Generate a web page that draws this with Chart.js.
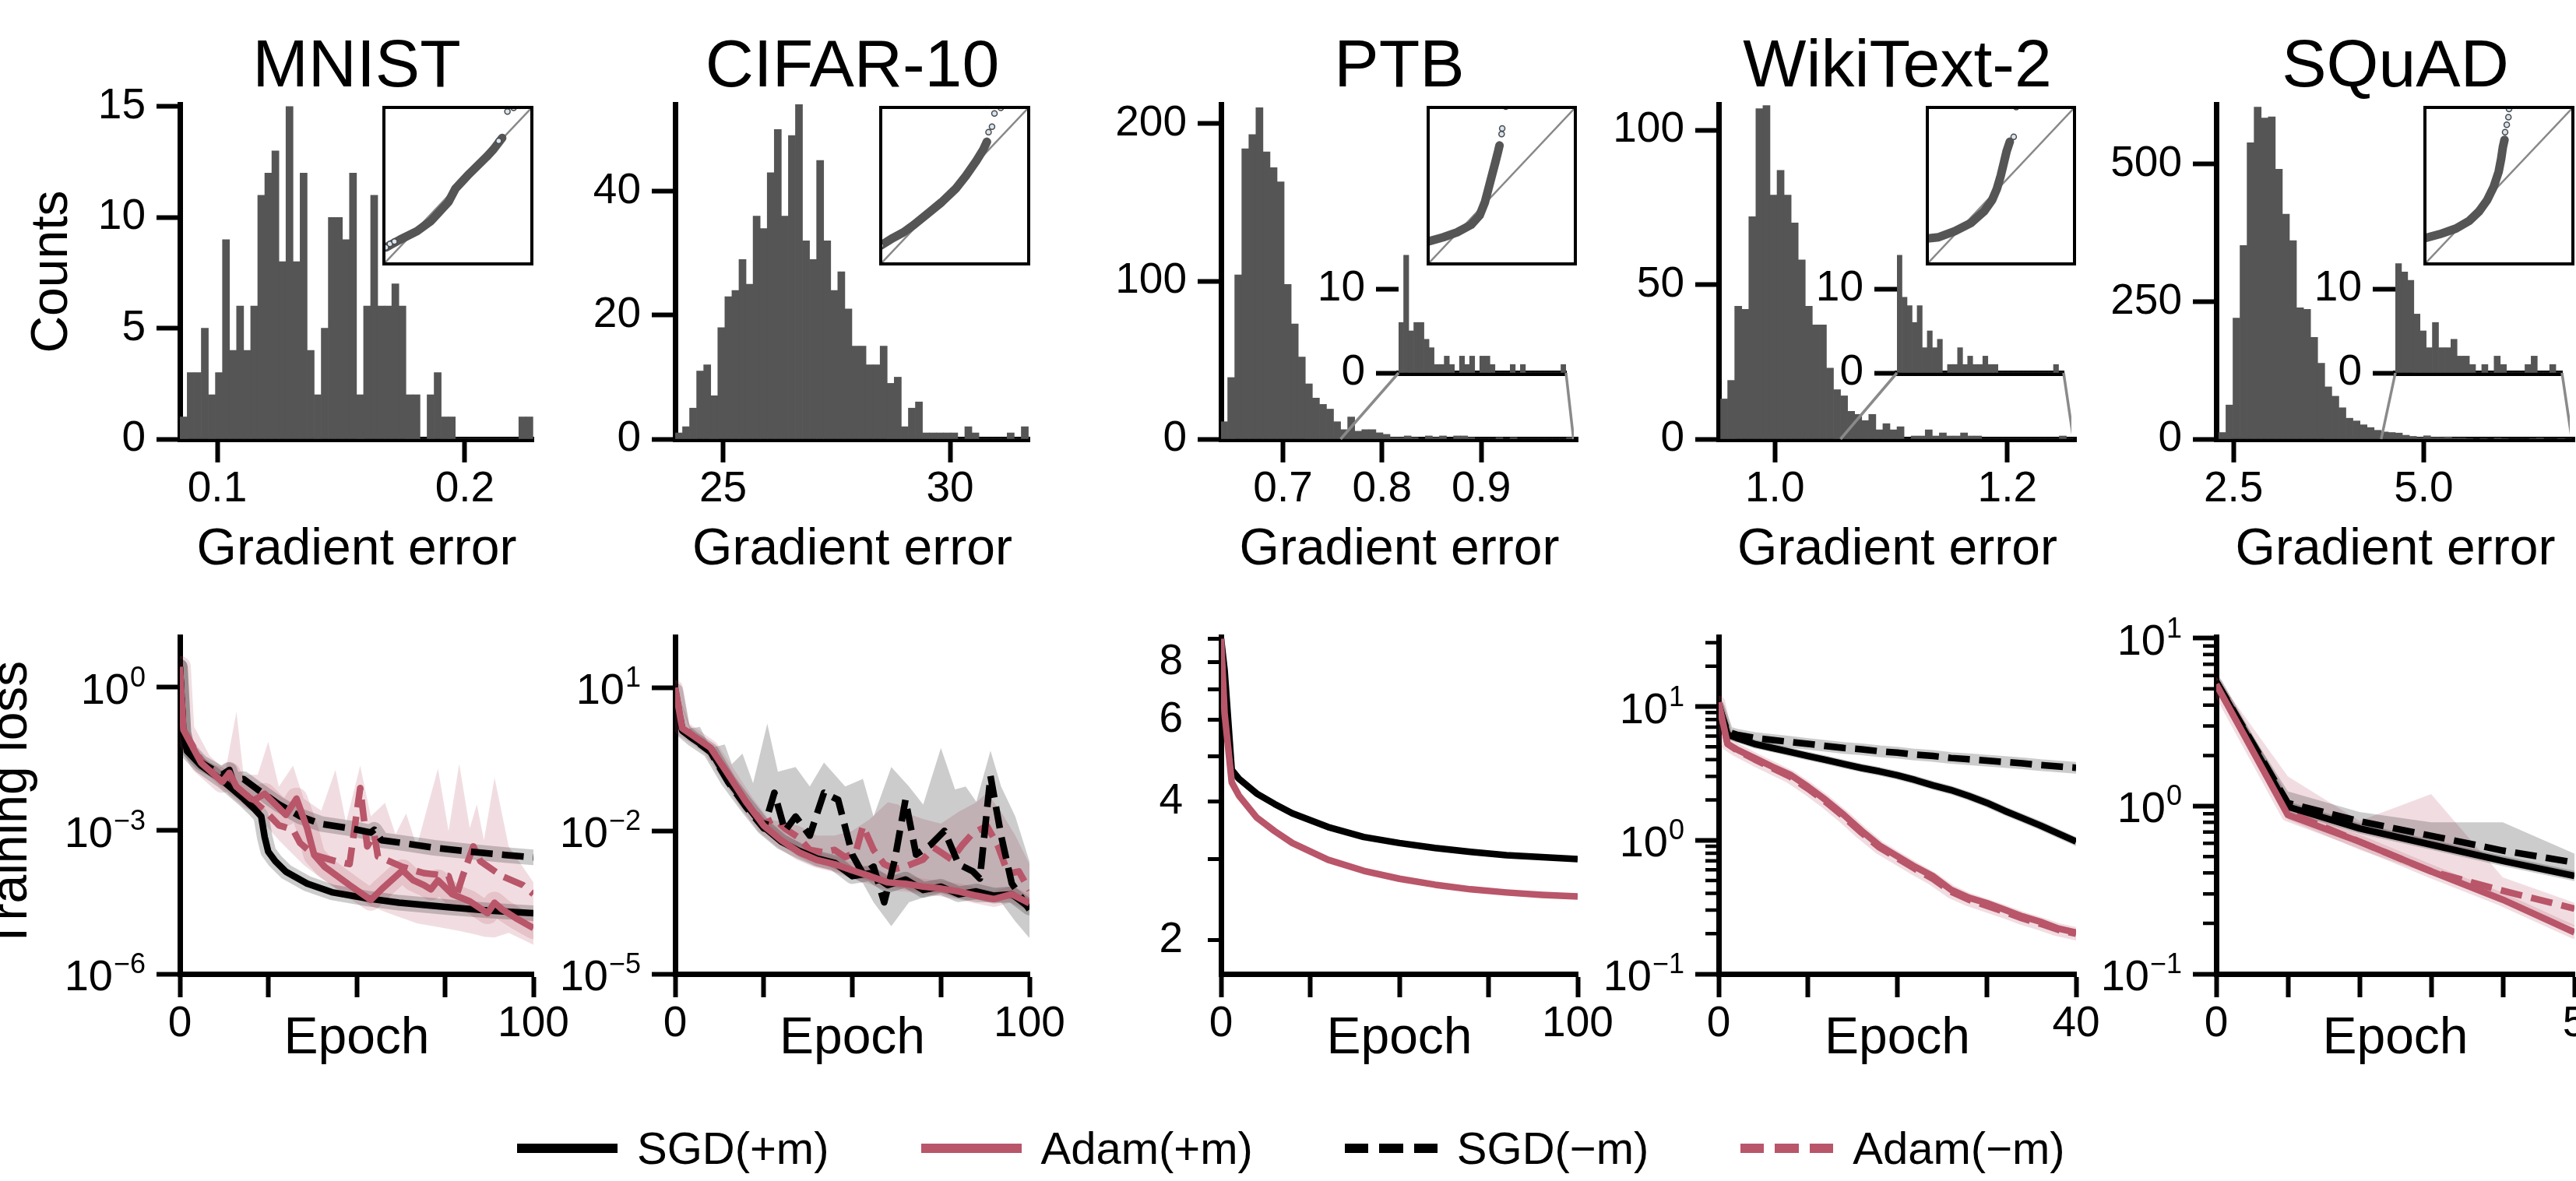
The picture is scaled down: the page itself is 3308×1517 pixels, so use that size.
<!DOCTYPE html>
<html>
<head>
<meta charset="utf-8">
<title>Gradient error histograms and training loss</title>
<script src="https://cdn.jsdelivr.net/npm/chart.js@4.4.1/dist/chart.umd.min.js"></script>
<style>
  html, body { margin: 0; background: #fff; }
  #page { position: relative; width: 3308px; height: 1517px; overflow: hidden; background: #fff;
          font-family: "Liberation Sans", Arial, Helvetica, sans-serif; }
  #page canvas { position: absolute; }
  #legend { position: absolute; left: 664px; top: 1446px; height: 58px; display: flex; align-items: center;
            gap: 118px; font-size: 58px; line-height: 1; color: #000; white-space: nowrap; }
  .item { display: flex; align-items: center; gap: 25px; }
  .swatch { width: 129px; height: 12px; }
</style>
</head>
<body>
<div id="page"><div id="legend"></div></div>
<script>
// ---------------- data ----------------

// gradient-error histograms, 50 equal bins each
const mnistBinStart = 0.0850, mnistBinWidth = 0.00285;
const mnistCounts = [1, 3, 3, 5, 2, 3, 9, 4, 6, 4, 6, 11, 12, 13, 8, 15, 8, 12, 4, 2,
  5, 10, 10, 9, 12, 2, 6, 11, 6, 6, 7, 6, 2, 2, 0, 2, 3, 1, 1, 0,
  0, 0, 0, 0, 0, 0, 0, 0, 1, 1];
const cifarBinStart = 23.95, cifarBinWidth = 0.1555;
const cifarCounts = [1, 2, 5, 11, 12, 7, 18, 23, 24, 29, 25, 36, 34, 43, 50, 36, 49, 54, 32, 29,
  45, 32, 24, 27, 21, 15, 15, 12, 12, 15, 9, 10, 2, 5, 6, 1, 1, 1, 1, 1,
  0, 2, 1, 0, 0, 0, 0, 1, 0, 2];
const ptbBinStart = 0.6371, ptbBinWidth = 0.00712;
const ptbCounts = [11, 39, 104, 184, 193, 210, 182, 172, 163, 98, 73, 52, 35, 26, 22, 19, 11, 6, 14, 5,
  6, 6, 4, 3, 1, 1, 2, 1, 0, 2, 1, 2, 0, 2, 2, 1, 0, 0, 0, 1,
  0, 1, 0, 0, 0, 0, 0, 0, 0, 1];
const wikiBinStart = 0.9533, wikiBinWidth = 0.00607;
const wikiCounts = [13, 19, 43, 42, 72, 107, 108, 79, 87, 79, 70, 58, 43, 37, 37, 23, 16, 14, 9, 8,
  6, 8, 3, 5, 3, 4, 0, 1, 1, 3, 1, 2, 1, 1, 2, 1, 1, 0, 0, 0,
  0, 0, 0, 0, 0, 0, 0, 0, 1, 0];
const squadBinStart = 2.307, squadBinWidth = 0.0928;
const squadCounts = [12, 62, 220, 352, 539, 604, 584, 586, 491, 409, 361, 239, 236, 185, 138, 95, 78, 57, 38, 33,
  26, 21, 16, 13, 12, 11, 7, 5, 3, 6, 3, 3, 4, 2, 2, 1, 0, 1, 0, 2,
  1, 0, 0, 0, 1, 2, 0, 0, 1, 0];
// first bin shown in the zoomed tail insets
const ptbTailFrom = 17, wikiTailFrom = 17, squadTailFrom = 23;

// histogram tick labels
const mnistHistXTicks = [0.1, 0.2], mnistHistYTicks = [0, 5, 10, 15];
const cifarHistXTicks = [25, 30], cifarHistYTicks = [0, 20, 40];
const ptbHistXTicks = [0.7, 0.8, 0.9], ptbHistYTicks = [0, 100, 200];
const wikiHistXTicks = [1.0, 1.2], wikiHistYTicks = [0, 50, 100];
const squadHistXTicks = [2.5, 5.0], squadHistYTicks = [0, 250, 500];
const tailYTicks = [0, 10];

// Q-Q plots (normalised quantiles): dense band, then the loose end points
const qqDiagonal = [[0, 0], [1, 1]];
const mnistQq = [[0.023, 0.113], [0.115, 0.161], [0.230, 0.215], [0.322, 0.279], [0.437, 0.397], [0.483, 0.480],
  [0.575, 0.574], [0.690, 0.681], [0.736, 0.728], [0.793, 0.799]];
const mnistQqEnds = [[0.023, 0.113], [0.05, 0.135], [0.08, 0.15], [0.77, 0.78], [0.828, 0.965], [0.869, 0.988]];
const cifarQq = [[0.011, 0.125], [0.092, 0.173], [0.161, 0.208], [0.230, 0.255], [0.322, 0.326], [0.414, 0.397],
  [0.506, 0.480], [0.575, 0.563], [0.644, 0.657], [0.690, 0.728], [0.713, 0.775]];
const cifarQqEnds = [[0.011, 0.125], [0.724, 0.835], [0.747, 0.870], [0.763, 0.953], [0.805, 0.988]];
const ptbQq = [[0.007, 0.149], [0.111, 0.177], [0.203, 0.208], [0.296, 0.255], [0.353, 0.314], [0.388, 0.397],
  [0.411, 0.480], [0.434, 0.563], [0.457, 0.645], [0.476, 0.716], [0.485, 0.752]];
const ptbQqEnds = [[0.499, 0.823], [0.503, 0.858], [0.527, 0.995]];
const wikiQq = [[0, 0.168], [0.086, 0.177], [0.194, 0.215], [0.301, 0.267], [0.387, 0.338], [0.441, 0.409],
  [0.473, 0.480], [0.499, 0.563], [0.520, 0.645], [0.538, 0.716], [0.559, 0.775]];
const wikiQqEnds = [[0.585, 0.806], [0.602, 0.993]];
const squadQq = [[0, 0.168], [0.108, 0.196], [0.216, 0.232], [0.303, 0.279], [0.368, 0.338], [0.422, 0.409],
  [0.465, 0.492], [0.498, 0.586], [0.515, 0.669], [0.526, 0.740], [0.537, 0.787]];
const squadQqEnds = [[0.541, 0.835], [0.552, 0.882], [0.563, 0.929], [0.567, 0.981]];

// training loss, stored as log10(loss) except PTB (plain loss)
const mnistSgdMomEpochs = [0, 1, 2, 6, 12, 18, 21, 23, 24, 25, 27, 30, 36, 43, 53, 62, 77, 87, 100];
const mnistSgdMomLog = [0.43, -0.95, -1.33, -1.64, -1.95, -2.33, -2.54, -2.7, -3.14, -3.44, -3.64, -3.86,
  -4.11, -4.29, -4.42, -4.51, -4.61, -4.67, -4.73];
const mnistSgdNoMomEpochs = [0, 1, 2, 6, 12, 14, 15, 18, 22, 28, 34, 40, 48, 54, 55, 57, 63, 72, 82, 92, 100];
const mnistSgdNoMomLog = [0.43, -0.95, -1.26, -1.58, -1.83, -1.73, -1.95, -1.92, -2.14, -2.45, -2.7, -2.86,
  -2.95, -3.04, -2.98, -3.2, -3.26, -3.36, -3.44, -3.51, -3.56];
const mnistAdamMomEpochs = [0, 1, 6, 12, 14, 16, 20, 21, 24, 27, 30, 33, 36, 38, 41, 48, 54, 57, 63, 66,
  69, 71, 73, 77, 82, 87, 89, 91, 95, 100];
const mnistAdamMomLog = [0.43, -0.89, -1.58, -1.98, -1.79, -2.08, -2.33, -2.36, -2.23, -2.45, -2.67, -2.33,
  -2.95, -3.51, -3.76, -4.14, -4.45, -4.23, -3.83, -4.04, -4.14, -4.23, -4.04, -4.33, -4.48, -4.73, -4.51,
  -4.64, -4.83, -5.04];
const mnistAdamNoMomEpochs = [0, 1, 6, 12, 18, 24, 28, 32, 34, 38, 44, 48, 51, 53, 55, 56, 63, 69, 76, 78,
  80, 83, 85, 91, 97, 100];
const mnistAdamNoMomLog = [0.43, -0.89, -1.53, -1.95, -2.2, -2.58, -2.89, -2.98, -3.26, -3.51, -3.64, -3.7,
  -2.11, -3.33, -3.08, -3.54, -3.76, -3.89, -3.95, -4.42, -3.95, -3.33, -3.64, -3.95, -4.14, -4.33];
const mnistAdamNoMomBandEpochs = [0, 2, 8, 13, 16, 18, 22, 25, 28, 32, 35, 40, 44, 47, 51, 54, 58, 61, 64, 67,
  73, 76, 79, 82, 84, 86, 89, 93, 100];
const mnistAdamNoMomBandHi = [0.49, -1.14, -1.58, -1.7, -0.51, -1.83, -1.83, -1.14, -2.08, -1.64, -2.33, -2.58,
  -1.73, -2.83, -1.64, -2.7, -2.42, -3.08, -2.64, -3.33, -1.7, -3.01, -1.6, -2.95, -2.45, -3.2, -1.89, -3.33, -4.08];
const mnistAdamNoMomBandLo = [0.36, -1.2, -1.85, -2.18, -2.33, -2.45, -2.72, -2.95, -3.2, -3.5, -3.72, -4.0,
  -4.2, -4.3, -4.45, -4.58, -4.7, -4.78, -4.86, -4.94, -5.02, -5.06, -5.1, -5.15, -5.18, -5.22, -5.24, -5.14, -5.39];

const cifarEpochs = [0, 2, 5, 10, 15, 20, 25, 30, 35, 40, 45, 50, 55, 60, 65, 70, 75, 80, 85, 90, 95, 100];
const cifarSgdMomLog = [0.94, 0.12, -0.07, -0.32, -0.95, -1.45, -1.92, -2.23, -2.42, -2.58, -2.67, -2.95,
  -2.89, -3.14, -3.02, -3.24, -3.17, -3.33, -3.27, -3.36, -3.33, -3.61];
const cifarAdamMomLog = [1.0, 0.15, 0.0, -0.26, -0.82, -1.39, -1.89, -2.2, -2.45, -2.61, -2.7, -2.83,
  -2.95, -3.08, -3.11, -3.17, -3.21, -3.27, -3.36, -3.43, -3.33, -3.52];
const cifarSgdNoMomEpochs = [0, 2, 5, 10, 15, 20, 25, 28, 31, 34, 38, 42, 46, 50, 53, 56, 59, 62, 65, 68,
  72, 76, 80, 84, 86, 89, 92, 95, 100];
const cifarSgdNoMomLog = [0.94, 0.1, -0.07, -0.35, -0.98, -1.5, -1.95, -1.2, -2.0, -1.7, -2.1, -1.2, -1.35,
  -2.5, -2.9, -2.75, -3.5, -2.6, -1.35, -2.5, -2.3, -2.0, -2.7, -2.85, -3.0, -0.85, -2.1, -3.1, -3.65];
const cifarAdamNoMomEpochs = [0, 2, 5, 10, 15, 20, 25, 28, 31, 35, 38, 42, 45, 48, 51, 53, 56, 59, 62, 65,
  70, 73, 75, 78, 81, 84, 88, 91, 94, 97, 100];
const cifarAdamNoMomLog = [1.0, 0.15, 0.0, -0.26, -0.82, -1.39, -1.85, -1.75, -1.95, -2.15, -2.4, -2.45,
  -2.4, -2.55, -2.45, -1.9, -2.4, -2.7, -2.8, -2.75, -2.6, -2.35, -2.45, -2.6, -2.3, -2.05, -1.9, -2.3,
  -2.9, -2.85, -3.25];
const cifarSgdNoMomBandEpochs = [0, 2, 7, 10, 14, 16, 19, 22, 26, 29, 34, 38, 42, 48, 53, 56, 61, 66, 70, 75,
  79, 82, 85, 89, 92, 96, 100];
const cifarSgdNoMomBandHi = [1.0, 0.12, 0.18, -0.26, -0.19, -0.6, -0.38, -1.0, 0.25, -0.76, -0.66, -1.07,
  -0.57, -1.07, -0.91, -1.7, -0.66, -1.07, -1.45, -0.26, -1.13, -1.07, -1.39, -0.32, -1.07, -1.7, -2.64];
const cifarSgdNoMomBandLo = [0.9, 0.05, -0.2, -0.4, -0.9, -1.1, -1.4, -1.65, -2.0, -2.2, -2.45, -2.6, -2.7,
  -2.9, -3.1, -3.5, -4.0, -3.5, -3.4, -3.3, -3.4, -3.45, -3.5, -3.5, -3.5, -3.9, -4.25];
const cifarAdamNoMomBandEpochs = [0, 5, 10, 15, 20, 25, 30, 35, 40, 45, 50, 55, 60, 63, 66, 70, 75, 80, 85,
  88, 92, 96, 100];
const cifarAdamNoMomBandHi = [1.02, 0.05, -0.2, -0.75, -1.3, -1.75, -1.8, -1.9, -2.1, -2.1, -2.0, -1.75, -1.4,
  -1.45, -1.65, -1.75, -1.85, -1.6, -1.4, -1.2, -1.6, -2.1, -2.7];
const cifarAdamNoMomBandLo = [0.98, -0.05, -0.35, -0.9, -1.45, -1.95, -2.3, -2.55, -2.75, -2.85, -2.95, -3.05,
  -3.15, -3.2, -3.25, -3.3, -3.3, -3.35, -3.4, -3.4, -3.4, -3.45, -3.55];

const ptbEpochs = [0, 1, 3, 5, 10, 15, 20, 30, 40, 50, 60, 70, 80, 90, 100];
const ptbSgdMom = [9.0, 7.7, 4.68, 4.48, 4.16, 3.95, 3.77, 3.52, 3.35, 3.25, 3.17, 3.11, 3.06, 3.03, 3.0];
const ptbAdamMom = [9.0, 6.2, 4.4, 4.12, 3.69, 3.45, 3.25, 2.99, 2.83, 2.72, 2.64, 2.58, 2.54, 2.51, 2.49];

const wikiEpochs = [0, 1, 2, 4, 6, 8, 10, 12, 14, 16, 18, 20, 22, 24, 26, 28, 30, 32, 34, 36, 38, 40];
const wikiSgdMomLog = [1.02, 0.79, 0.765, 0.72, 0.69, 0.66, 0.63, 0.60, 0.57, 0.54, 0.515, 0.485, 0.45, 0.41,
  0.375, 0.33, 0.28, 0.22, 0.165, 0.11, 0.05, -0.01];
const wikiSgdNoMomLog = [1.0, 0.81, 0.79, 0.765, 0.75, 0.735, 0.72, 0.705, 0.69, 0.68, 0.665, 0.655, 0.64, 0.63,
  0.615, 0.605, 0.595, 0.585, 0.575, 0.562, 0.552, 0.542];
const wikiAdamMomLog = [1.03, 0.72, 0.68, 0.615, 0.55, 0.49, 0.40, 0.30, 0.19, 0.07, -0.04, -0.12, -0.2, -0.27,
  -0.37, -0.43, -0.47, -0.52, -0.57, -0.61, -0.66, -0.69];
const wikiAdamNoMomLog = [1.03, 0.72, 0.675, 0.605, 0.54, 0.475, 0.385, 0.285, 0.175, 0.055, -0.055, -0.135,
  -0.215, -0.29, -0.385, -0.445, -0.49, -0.535, -0.585, -0.625, -0.67, -0.7];

const squadEpochs = [0, 1, 2, 3, 4, 5];
const squadSgdMomLog = [0.743, -0.004, -0.133, -0.23, -0.327, -0.416];
const squadSgdNoMomLog = [0.743, 0.018, -0.09, -0.177, -0.265, -0.336];
const squadAdamMomLog = [0.726, -0.053, -0.212, -0.389, -0.558, -0.752];
const squadAdamNoMomLog = [0.726, -0.035, -0.212, -0.389, -0.504, -0.611];
const squadSgdNoMomBandHi = [0.76, 0.088, -0.035, -0.097, -0.097, -0.283];
const squadSgdNoMomBandLo = [0.73, -0.01, -0.13, -0.22, -0.31, -0.40];
const squadAdamNoMomBandHi = [0.77, 0.177, -0.088, 0.071, -0.425, -0.575];
const squadAdamNoMomBandLo = [0.70, -0.08, -0.26, -0.41, -0.57, -0.72];

// loss-axis ticks
const epochTicks100 = [0, 25, 50, 75, 100];
const wikiEpochTicks = [0, 10, 20, 30, 40];
const squadEpochTicks = [0, 1, 2, 3, 4, 5];
const mnistLossExps = [-6, -3, 0];
const cifarLossExps = [-5, -2, 1];
const wikiLossExps = [-1, 0, 1];
const squadLossExps = [-1, 0, 1];
const ptbLossTicks = [2, 3, 4, 5, 6, 7, 8, 9];
const ptbLossLabels = [2, 4, 6, 8];
const wikiMinorTicks = [0.2, 0.3, 0.4, 0.5, 0.6, 0.7, 0.8, 0.9, 2, 3, 4, 5, 6, 7, 8, 9, 20, 30];
const squadMinorTicks = [0.2, 0.3, 0.4, 0.5, 0.6, 0.7, 0.8, 0.9, 2, 3, 4, 5, 6, 7, 8, 9];

const legendLabels = ['SGD(+m)', 'Adam(+m)', 'SGD(\u2212m)', 'Adam(\u2212m)'];

// ---------------- styling ----------------
const FONT = '"Liberation Sans", Arial, Helvetica, sans-serif';
const RED = '#b9566a';
const BAR = '#555555';
const GRAY_BAND = 'rgba(0,0,0,0.2)';
const RED_BAND = 'rgba(185,86,106,0.2)';
const LINE_W = 8.5;
Chart.defaults.font.family = FONT;
Chart.defaults.color = '#000';

const page = document.getElementById('page');
const legendEl = document.getElementById('legend');
const charts = {};

function mount(area, pad) {
  const c = document.createElement('canvas');
  const w = Math.round(area.r - area.l + pad.l + pad.r);
  const h = Math.round(area.b - area.t + pad.t + pad.b);
  c.width = w; c.height = h;
  c.style.left = (area.l - pad.l) + 'px';
  c.style.top = (area.t - pad.t) + 'px';
  c.style.width = w + 'px'; c.style.height = h + 'px';
  page.insertBefore(c, legendEl);
  return c;
}

function base(pad) {
  return {
    responsive: false, animation: false, devicePixelRatio: 1, events: [],
    layout: {padding: {left: 0, top: pad.t, right: pad.r, bottom: 0}, autoPadding: false},
    plugins: {legend: {display: false}, tooltip: {enabled: false}}
  };
}

function axis(o) {
  const tickLen = o.tickLen === undefined ? 30 : o.tickLen;
  return {
    type: o.type || 'linear', min: o.min, max: o.max, offset: false, z: 1,
    afterBuildTicks: s => { s.ticks = o.ticks.map(v => ({value: v})); },
    afterFit: s => {
      if (s.isHorizontal()) s.height = o.size; else s.width = o.size;
      s.paddingLeft = s.paddingRight = s.paddingTop = s.paddingBottom = 0;
    },
    border: {display: o.border !== false, width: 7, color: '#000'},
    grid: {display: tickLen > 0, drawOnChartArea: false, drawTicks: tickLen > 0, tickLength: tickLen,
           tickWidth: o.tickWidth || 6, tickColor: '#000', offset: false},
    ticks: {display: o.labels !== false, font: {size: 55}, color: '#000', padding: o.pad === undefined ? 12 : o.pad,
            maxRotation: 0, autoSkip: false, callback: o.fmt || (v => String(v))},
    title: o.title ? {display: true, text: o.title, color: '#000', font: {size: 66}, padding: o.titlePad}
                   : {display: false}
  };
}

// ---------------- plugins ----------------
const panelTitle = {
  id: 'panelTitle',
  afterDraw(chart, args, opts) {
    if (!opts.text) return;
    const a = chart.chartArea, ctx = chart.ctx;
    ctx.save();
    ctx.font = '86px ' + FONT;
    ctx.fillStyle = '#000';
    ctx.textAlign = 'center';
    ctx.textBaseline = 'alphabetic';
    ctx.fillText(opts.text, (a.left + a.right) / 2, a.top - 23);
    ctx.restore();
  }
};

// grey lines joining the zoomed tail inset to the range it shows on the main axis
const connector = {
  id: 'connector',
  afterDraw(chart, args, opts) {
    const main = charts[opts.main];
    if (!main) return;
    const ctx = chart.ctx, a = chart.chartArea, xs = main.scales.x;
    const dx = parseFloat(main.canvas.style.left) - parseFloat(chart.canvas.style.left);
    const dy = parseFloat(main.canvas.style.top) - parseFloat(chart.canvas.style.top);
    const y0 = main.chartArea.bottom + dy;
    ctx.save();
    ctx.strokeStyle = '#8a8a8a';
    ctx.lineWidth = 3.5;
    ctx.beginPath();
    ctx.moveTo(xs.getPixelForValue(chart.scales.x.min) + dx, y0);
    ctx.lineTo(a.left, a.bottom);
    ctx.moveTo(xs.getPixelForValue(chart.scales.x.max) + dx, y0);
    ctx.lineTo(a.right, a.bottom);
    ctx.stroke();
    ctx.restore();
  }
};

const frame = {
  id: 'frame',
  afterDraw(chart) {
    const a = chart.chartArea, ctx = chart.ctx;
    ctx.save();
    ctx.lineWidth = 4;
    ctx.strokeStyle = '#000';
    ctx.strokeRect(a.left + 2, a.top + 2, a.width - 4, a.height - 4);
    ctx.restore();
  }
};

// "10" with a raised exponent for log axes
const powLabels = {
  id: 'powLabels',
  afterDraw(chart, args, opts) {
    if (!opts.exps || !opts.exps.length) return;
    const s = chart.scales.y, ctx = chart.ctx;
    ctx.save();
    ctx.fillStyle = '#000';
    ctx.textAlign = 'right';
    ctx.textBaseline = 'alphabetic';
    for (const e of opts.exps) {
      const y = s.getPixelForValue(Math.pow(10, e));
      const xr = s.right - 30 - 14;
      const sup = e < 0 ? '\u2212' + (-e) : String(e);
      ctx.font = '36px ' + FONT;
      ctx.fillText(sup, xr, y - 1);
      const w = ctx.measureText(sup).width;
      ctx.font = '56px ' + FONT;
      ctx.fillText('10', xr - w - 1, y + 21);
    }
    ctx.restore();
  }
};

const minorTicks = {
  id: 'minorTicks',
  afterDraw(chart, args, opts) {
    if (!opts.values || !opts.values.length) return;
    const s = chart.scales.y, ctx = chart.ctx;
    ctx.save();
    ctx.strokeStyle = '#000';
    ctx.lineWidth = 4.5;
    ctx.beginPath();
    for (const v of opts.values) {
      if (v < s.min || v > s.max) continue;
      const y = s.getPixelForValue(v);
      ctx.moveTo(s.right - 17, y);
      ctx.lineTo(s.right, y);
    }
    ctx.stroke();
    ctx.restore();
  }
};

// ---------------- chart builders ----------------
function histogram(o) {
  const pad = o.pad, from = o.from || 0;
  const cv = mount(o.area, pad);
  const bars = o.counts.slice(from).map((c, i) => ({x: o.binStart + (from + i + 0.5) * o.binWidth, y: c}));
  const opts = base(pad);
  opts.scales = {
    x: axis({min: o.inset ? o.binStart + from * o.binWidth : o.xmin,
             max: o.inset ? o.binStart + o.counts.length * o.binWidth : o.xmax,
             ticks: o.xTicks || [], size: pad.b, tickLen: o.inset ? 0 : 30, labels: !o.inset, pad: 2,
             fmt: v => v.toFixed(o.digits || 0),
             title: o.inset ? null : 'Gradient error', titlePad: {top: 0, bottom: 18}}),
    y: axis({min: 0, max: o.ymax, ticks: o.yTicks, size: pad.l, tickLen: o.inset ? 29 : 30,
             border: !o.inset, pad: 14, title: o.ytitle, titlePad: {top: 28, bottom: 0}})
  };
  opts.plugins.panelTitle = {text: o.title || ''};
  opts.plugins.connector = {main: o.main || ''};
  return new Chart(cv, {
    type: 'bar',
    data: {datasets: [{data: bars, backgroundColor: BAR, borderWidth: 0, barPercentage: 1,
                       categoryPercentage: 1, grouped: false}]},
    options: opts,
    plugins: [panelTitle, connector]
  });
}

function qqPlot(area, curve, ends) {
  const cv = mount(area, {l: 0, r: 0, t: 0, b: 0});
  const opts = base({t: 0, r: 0});
  opts.scales = {x: {type: 'linear', min: 0, max: 1, display: false},
                 y: {type: 'linear', min: 0, max: 1, display: false}};
  const xy = arr => arr.map(([x, y]) => ({x, y}));
  return new Chart(cv, {
    type: 'scatter',
    data: {datasets: [
      {type: 'scatter', data: xy(ends), pointRadius: 3.5, pointBorderWidth: 1.5, pointBorderColor: '#4a4a4a',
       pointBackgroundColor: '#d9e6f2', order: 0},
      {type: 'line', data: xy(curve), borderColor: '#555', borderWidth: 11, pointRadius: 0,
       borderCapStyle: 'round', borderJoinStyle: 'round', order: 1},
      {type: 'line', data: xy(qqDiagonal), borderColor: '#888', borderWidth: 2.5, pointRadius: 0, order: 2}
    ]},
    options: opts,
    plugins: [frame]
  });
}

const pts = (xs, logs) => xs.map((x, i) => ({x, y: Math.pow(10, logs[i])}));
const ptsLin = (xs, ys) => xs.map((x, i) => ({x, y: ys[i]}));
function line(data, color, dashed, order) {
  return {data, order, borderColor: color, borderWidth: LINE_W, borderDash: dashed ? [28, 12] : [],
          pointRadius: 0, fill: false, tension: 0, borderJoinStyle: 'round'};
}
function spread(data, color, order, width) {
  return {data, order, borderColor: color, borderWidth: width || 20, pointRadius: 0, fill: false,
          tension: 0, borderJoinStyle: 'round', borderCapStyle: 'round'};
}
function band(xs, hi, lo, color, order) {
  return [
    {data: pts(xs, hi), order, borderWidth: 0, pointRadius: 0, fill: '+1', backgroundColor: color, tension: 0},
    {data: pts(xs, lo), order, borderWidth: 0, pointRadius: 0, fill: false, tension: 0}
  ];
}
const endsOnly = (v, i, t) => (i === 0 || i === t.length - 1) ? String(v) : '';

function lossChart(o) {
  const pad = o.pad;
  const cv = mount(o.area, pad);
  const opts = base(pad);
  opts.scales = {
    x: axis({min: 0, max: o.xmax, ticks: o.xTicks, size: pad.b, pad: 2, fmt: endsOnly,
             title: 'Epoch', titlePad: {top: 0, bottom: 7}}),
    y: axis({type: 'logarithmic', min: o.ymin, max: o.ymax, ticks: o.yTicks, size: pad.l,
             tickLen: o.yTickLen || 30, tickWidth: o.yTickWidth || 6, pad: o.yPad || 12,
             fmt: o.yFmt || (() => ''), title: o.ytitle, titlePad: {top: -23.6, bottom: 0}})
  };
  opts.plugins.powLabels = {exps: o.exps || []};
  opts.plugins.minorTicks = {values: o.minor || []};
  return new Chart(cv, {type: 'line', data: {datasets: o.datasets}, options: opts,
                        plugins: [powLabels, minorTicks]});
}

// ---------------- layout (page pixels) ----------------
const cols = [{l: 231, r: 685}, {l: 867, r: 1322}, {l: 1568, r: 2026}, {l: 2207, r: 2666}, {l: 2846, r: 3306}];
const histRow = {t: 134, b: 564};
const lossRow = {t: 818, b: 1251};
const tailRow = {t: 317, b: 479};
const qqRow = {t: 136, b: 341};
const area = (c, row) => ({l: c.l, r: c.r, t: row.t, b: row.b});
const histPad = {l: 150, r: 20, t: 134, b: 200};
const tailPad = {l: 110, r: 10, t: 10, b: 90};
const lossPad = {l: 170, r: 60, t: 60, b: 130};

// ---------------- top row: histograms ----------------
charts.mnist = histogram({area: area(cols[0], histRow), pad: Object.assign({}, histPad, {l: 231}),
  counts: mnistCounts, binStart: mnistBinStart, binWidth: mnistBinWidth, xmin: 0.0849, xmax: 0.2277, ymax: 15.1,
  xTicks: mnistHistXTicks, yTicks: mnistHistYTicks, digits: 1, title: 'MNIST', ytitle: 'Counts'});
charts.cifar = histogram({area: area(cols[1], histRow), pad: histPad,
  counts: cifarCounts, binStart: cifarBinStart, binWidth: cifarBinWidth, xmin: 23.943, xmax: 31.75, ymax: 54.05,
  xTicks: cifarHistXTicks, yTicks: cifarHistYTicks, digits: 0, title: 'CIFAR-10'});
charts.ptb = histogram({area: area(cols[2], histRow), pad: histPad,
  counts: ptbCounts, binStart: ptbBinStart, binWidth: ptbBinWidth, xmin: 0.6375, xmax: 0.9973, ymax: 212.1,
  xTicks: ptbHistXTicks, yTicks: ptbHistYTicks, digits: 1, title: 'PTB'});
charts.wiki = histogram({area: area(cols[3], histRow), pad: histPad,
  counts: wikiCounts, binStart: wikiBinStart, binWidth: wikiBinWidth, xmin: 0.9516, xmax: 1.2591, ymax: 108.4,
  xTicks: wikiHistXTicks, yTicks: wikiHistYTicks, digits: 1, title: 'WikiText-2'});
charts.squad = histogram({area: area(cols[4], histRow), pad: histPad,
  counts: squadCounts, binStart: squadBinStart, binWidth: squadBinWidth, xmin: 2.2727, xmax: 6.982, ymax: 608.9,
  xTicks: squadHistXTicks, yTicks: squadHistYTicks, digits: 1, title: 'SQuAD'});

// zoomed tails
histogram({area: {l: 1796, r: 2011, t: tailRow.t, b: tailRow.b}, pad: tailPad, inset: true, main: 'ptb',
  counts: ptbCounts, from: ptbTailFrom, binStart: ptbBinStart, binWidth: ptbBinWidth, ymax: 15, yTicks: tailYTicks});
histogram({area: {l: 2436, r: 2650, t: tailRow.t, b: tailRow.b}, pad: tailPad, inset: true, main: 'wiki',
  counts: wikiCounts, from: wikiTailFrom, binStart: wikiBinStart, binWidth: wikiBinWidth, ymax: 15, yTicks: tailYTicks});
histogram({area: {l: 3076, r: 3290, t: tailRow.t, b: tailRow.b}, pad: tailPad, inset: true, main: 'squad',
  counts: squadCounts, from: squadTailFrom, binStart: squadBinStart, binWidth: squadBinWidth, ymax: 15, yTicks: tailYTicks});

// Q-Q insets
qqPlot({l: 491, r: 685, t: qqRow.t, b: qqRow.b}, mnistQq, mnistQqEnds);
qqPlot({l: 1129, r: 1323, t: qqRow.t, b: qqRow.b}, cifarQq, cifarQqEnds);
qqPlot({l: 1832, r: 2025, t: qqRow.t, b: qqRow.b}, ptbQq, ptbQqEnds);
qqPlot({l: 2473, r: 2666, t: qqRow.t, b: qqRow.b}, wikiQq, wikiQqEnds);
qqPlot({l: 3112, r: 3306, t: qqRow.t, b: qqRow.b}, squadQq, squadQqEnds);

// ---------------- bottom row: training loss ----------------
lossChart({area: area(cols[0], lossRow), pad: Object.assign({}, lossPad, {l: 231}), xmax: 100,
  xTicks: epochTicks100, ymin: 1e-6, ymax: 11.4, yTicks: mnistLossExps.map(e => Math.pow(10, e)),
  exps: mnistLossExps, ytitle: 'Training loss',
  datasets: [
    line(pts(mnistAdamMomEpochs, mnistAdamMomLog), RED, false, 0),
    line(pts(mnistSgdMomEpochs, mnistSgdMomLog), '#000', false, 1),
    line(pts(mnistSgdNoMomEpochs, mnistSgdNoMomLog), '#000', true, 2),
    line(pts(mnistAdamNoMomEpochs, mnistAdamNoMomLog), RED, true, 3),
    spread(pts(mnistSgdMomEpochs, mnistSgdMomLog), GRAY_BAND, 10),
    spread(pts(mnistSgdNoMomEpochs, mnistSgdNoMomLog), GRAY_BAND, 11),
    spread(pts(mnistAdamMomEpochs, mnistAdamMomLog), RED_BAND, 12, 28),
    ...band(mnistAdamNoMomBandEpochs, mnistAdamNoMomBandHi, mnistAdamNoMomBandLo, RED_BAND, 20)
  ]});

lossChart({area: area(cols[1], lossRow), pad: lossPad, xmax: 100,
  xTicks: epochTicks100, ymin: 1e-5, ymax: 117, yTicks: cifarLossExps.map(e => Math.pow(10, e)),
  exps: cifarLossExps,
  datasets: [
    line(pts(cifarEpochs, cifarAdamMomLog), RED, false, 0),
    line(pts(cifarEpochs, cifarSgdMomLog), '#000', false, 1),
    line(pts(cifarSgdNoMomEpochs, cifarSgdNoMomLog), '#000', true, 2),
    line(pts(cifarAdamNoMomEpochs, cifarAdamNoMomLog), RED, true, 3),
    spread(pts(cifarEpochs, cifarSgdMomLog), GRAY_BAND, 10),
    spread(pts(cifarEpochs, cifarAdamMomLog), RED_BAND, 11),
    ...band(cifarSgdNoMomBandEpochs, cifarSgdNoMomBandHi, cifarSgdNoMomBandLo, GRAY_BAND, 20),
    ...band(cifarAdamNoMomBandEpochs, cifarAdamNoMomBandHi, cifarAdamNoMomBandLo, RED_BAND, 21)
  ]});

lossChart({area: area(cols[2], lossRow), pad: lossPad, xmax: 100,
  xTicks: epochTicks100, ymin: 1.692, ymax: 9.09, yTicks: ptbLossTicks,
  yTickLen: 17, yTickWidth: 5, yPad: 32, yFmt: v => ptbLossLabels.includes(v) ? String(v) : '',
  datasets: [
    line(ptsLin(ptbEpochs, ptbAdamMom), RED, false, 0),
    line(ptsLin(ptbEpochs, ptbSgdMom), '#000', false, 1)
  ]});

lossChart({area: area(cols[3], lossRow), pad: lossPad, xmax: 40,
  xTicks: wikiEpochTicks, ymin: 0.1, ymax: 33.2, yTicks: wikiLossExps.map(e => Math.pow(10, e)),
  exps: wikiLossExps, minor: wikiMinorTicks,
  datasets: [
    line(pts(wikiEpochs, wikiAdamMomLog), RED, false, 0),
    line(pts(wikiEpochs, wikiSgdMomLog), '#000', false, 1),
    line(pts(wikiEpochs, wikiSgdNoMomLog), '#000', true, 2),
    line(pts(wikiEpochs, wikiAdamNoMomLog), RED, true, 3),
    spread(pts(wikiEpochs, wikiSgdNoMomLog), GRAY_BAND, 10, 15),
    spread(pts(wikiEpochs, wikiSgdMomLog), GRAY_BAND, 11, 11),
    spread(pts(wikiEpochs, wikiAdamNoMomLog), RED_BAND, 12, 17)
  ]});

lossChart({area: area(cols[4], lossRow), pad: lossPad, xmax: 5,
  xTicks: squadEpochTicks, ymin: 0.1, ymax: 10.2, yTicks: squadLossExps.map(e => Math.pow(10, e)),
  exps: squadLossExps, minor: squadMinorTicks,
  datasets: [
    line(pts(squadEpochs, squadAdamMomLog), RED, false, 0),
    line(pts(squadEpochs, squadSgdMomLog), '#000', false, 1),
    line(pts(squadEpochs, squadSgdNoMomLog), '#000', true, 2),
    line(pts(squadEpochs, squadAdamNoMomLog), RED, true, 3),
    spread(pts(squadEpochs, squadSgdMomLog), GRAY_BAND, 10, 13),
    spread(pts(squadEpochs, squadAdamMomLog), RED_BAND, 11, 17),
    ...band(squadEpochs, squadSgdNoMomBandHi, squadSgdNoMomBandLo, GRAY_BAND, 20),
    ...band(squadEpochs, squadAdamNoMomBandHi, squadAdamNoMomBandLo, RED_BAND, 21)
  ]});

// ---------------- shared legend ----------------
const legendStyles = [
  {color: '#000', dashed: false}, {color: RED, dashed: false},
  {color: '#000', dashed: true}, {color: RED, dashed: true}
];
legendLabels.forEach((label, i) => {
  const st = legendStyles[i];
  const item = document.createElement('div');
  item.className = 'item';
  const sw = document.createElement('div');
  sw.className = 'swatch';
  sw.style.background = st.dashed
    ? `repeating-linear-gradient(90deg, ${st.color} 0 30px, transparent 30px 44.5px)`
    : st.color;
  if (st.dashed) sw.style.width = '119px';
  const tx = document.createElement('span');
  tx.textContent = label;
  item.appendChild(sw);
  item.appendChild(tx);
  legendEl.appendChild(item);
});
</script>
</body>
</html>
